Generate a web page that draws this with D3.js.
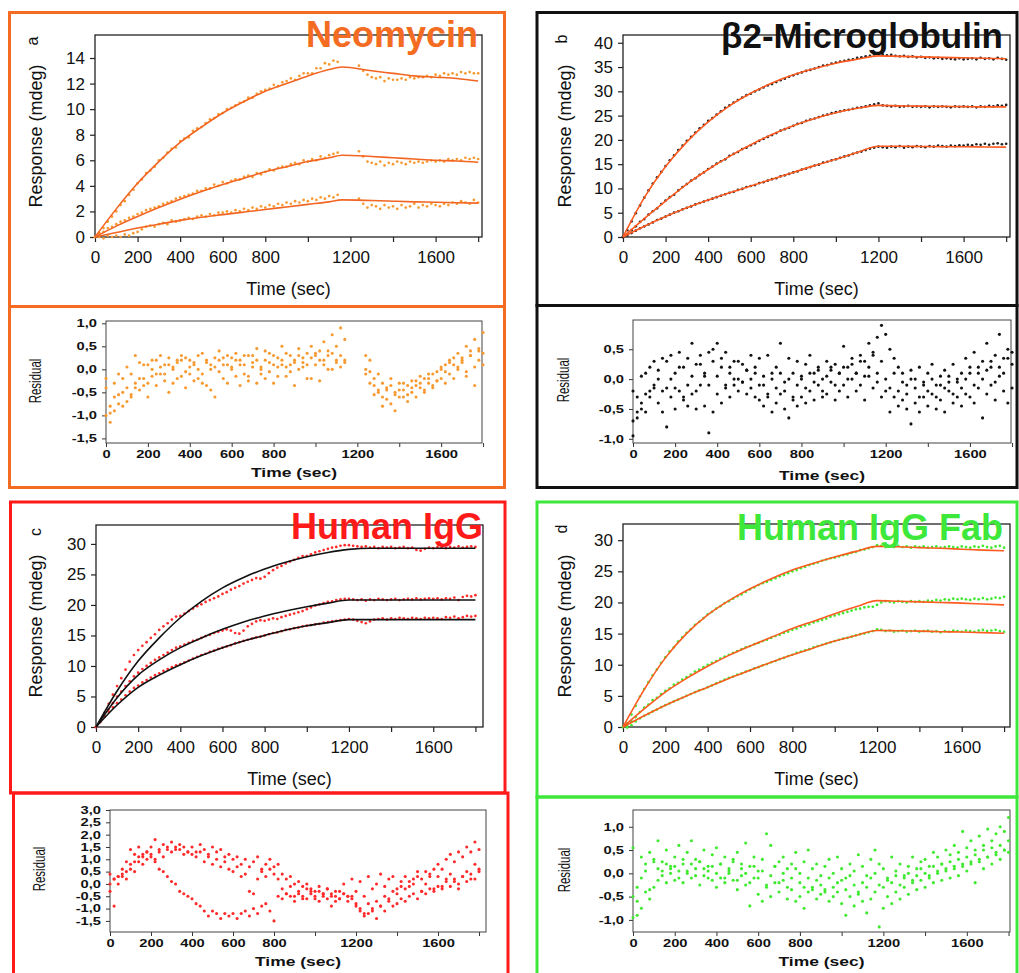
<!DOCTYPE html>
<html lang="en">
<head>
<meta charset="utf-8">
<title>Binding curves and residuals</title>
<script src="https://cdn.jsdelivr.net/npm/d3@7"></script>
<style>
body { margin: 0; background: #fff; }
text { font-family: "Liberation Sans", Arial, sans-serif; }
</style>
</head>
<body>
<script>

// sampling grids (sec)
var timeA = d3.range(0, 1141, 20).concat(d3.range(1240, 1801, 20));
var timeFull = d3.range(0, 1801, 20);
var fitTimeA = [0, 100, 200, 300, 400, 500, 600, 700, 800, 900, 1000, 1100, 1160, 1300, 1400, 1500, 1600, 1700, 1800];
var fitTime = d3.range(0, 1801, 100);

var timeTicks = [0, 200, 400, 600, 800, 1000, 1200, 1400, 1600, 1800];
var timeLabels = [0, 200, 400, 600, 800, 1200, 1600];

var titles = ["Neomycin", "\u03b22-Microglobulin", "Human IgG", "Human IgG Fab"];
var letters = ["a", "b", "c", "d"];

// ---- a: Neomycin ----
var neoHigh = [0.0, 0.3, 0.7, 1.2, 1.6, 2.0, 2.5, 2.8, 3.3, 3.7,
  4.2, 4.5, 5.0, 5.2, 5.5, 6.0, 6.2, 6.6, 6.9, 7.0,
  7.5, 7.7, 7.8, 8.3, 8.5, 8.6, 8.9, 9.2, 9.3, 9.6,
  9.7, 10.0, 10.1, 10.3, 10.5, 10.6, 10.9, 10.9, 11.2, 11.4,
  11.5, 11.6, 11.9, 11.8, 12.1, 12.2, 12.4, 12.3, 12.6, 12.8,
  12.8, 12.8, 13.2, 13.2, 13.6, 13.5, 13.8, 13.7,
  13.4, 13.0, 12.7, 12.5, 12.4, 12.5, 12.2, 12.4, 12.3, 12.3,
  12.4, 12.3, 12.5, 12.4, 12.5, 12.5, 12.6, 12.5, 12.7, 12.6,
  12.8, 12.7, 12.8, 12.7, 12.9, 12.8, 12.9, 12.8, 12.8];
var neoMid = [0.0, 0.3, 0.4, 0.7, 0.8, 1.0, 1.2, 1.3, 1.5, 1.6,
  1.8, 1.9, 2.1, 2.2, 2.3, 2.4, 2.6, 2.7, 2.8, 3.0,
  3.1, 3.2, 3.3, 3.4, 3.6, 3.6, 3.8, 3.8, 4.1, 4.0,
  4.3, 4.2, 4.4, 4.5, 4.5, 4.7, 4.8, 4.7, 5.0, 4.9,
  5.1, 5.3, 5.2, 5.4, 5.5, 5.5, 5.7, 5.8, 5.7, 6.0,
  5.9, 6.1, 6.0, 6.3, 6.2, 6.4, 6.5, 6.6,
  6.7, 6.3, 5.9, 5.8, 5.7, 5.9, 5.6, 5.8, 5.7, 5.9,
  5.8, 5.7, 5.9, 5.8, 5.9, 5.8, 5.9, 6.0, 5.9, 6.0,
  5.9, 6.1, 6.0, 6.1, 6.0, 6.2, 6.1, 6.2, 6.1];
var neoLow = [0.0, 0.0, -0.1, 0.1, 0.0, 0.1, 0.0, 0.2, 0.1, 0.3,
  0.4, 0.6, 0.8, 0.9, 0.8, 1.0, 1.1, 1.0, 1.3, 1.2,
  1.3, 1.4, 1.5, 1.4, 1.6, 1.7, 1.6, 1.8, 1.7, 1.9,
  1.9, 2.0, 1.9, 2.1, 2.0, 2.2, 2.1, 2.3, 2.2, 2.4,
  2.3, 2.5, 2.4, 2.6, 2.5, 2.7, 2.6, 2.8, 2.7, 2.9,
  2.8, 3.0, 2.9, 3.1, 3.0, 3.2, 3.1, 3.3,
  3.0, 2.6, 2.3, 2.5, 2.4, 2.2, 2.5, 2.3, 2.4, 2.2,
  2.5, 2.3, 2.4, 2.6, 2.3, 2.5, 2.4, 2.6, 2.5, 2.4,
  2.6, 2.5, 2.7, 2.6, 2.8, 2.7, 2.6, 2.9, 2.7];
var neoFitHigh = [0, 2.2, 4.2, 5.9, 7.4, 8.6, 9.7, 10.6, 11.4, 12.0, 12.6, 13.1, 13.3, 13.0, 12.8, 12.6, 12.5, 12.4, 12.2];
var neoFitMid = [0, 0.85, 1.6, 2.3, 2.95, 3.55, 4.1, 4.6, 5.1, 5.5, 5.9, 6.2, 6.4, 6.3, 6.2, 6.1, 6.0, 5.95, 5.85];
var neoFitLow = [0, 0.35, 0.7, 1.0, 1.3, 1.55, 1.75, 1.95, 2.15, 2.35, 2.55, 2.75, 2.9, 2.85, 2.8, 2.75, 2.72, 2.68, 2.65];
var neoRes1 = [-1.0, -0.8, -0.6, -0.75, -0.5, -0.4, -0.55, -0.3, -0.2, -0.35,
  0.1, -0.15, 0.2, 0.05, -0.1, 0.25, 0.0, 0.15, 0.3, -0.05,
  0.2, 0.1, -0.2, 0.35, 0.15, 0.0, 0.25, 0.4, 0.1, 0.3,
  0.05, 0.35, 0.2, -0.1, 0.3, 0.15, 0.45, 0.0, 0.2, 0.35,
  0.1, 0.25, 0.5, 0.05, 0.3, 0.2, 0.45, 0.15, 0.35, 0.5,
  0.3, 0.2, 0.6, 0.4, 0.75, 0.5, 0.9, 0.65,
  0.3, -0.05, -0.35, -0.5, -0.6, -0.4, -0.75, -0.55, -0.45, -0.6,
  -0.35, -0.5, -0.25, -0.4, -0.2, -0.3, -0.1, -0.25, 0.05, -0.05,
  0.2, 0.1, 0.35, 0.2, 0.5, 0.3, 0.65, 0.45, 0.8];
var neoRes2 = [-0.4, -0.95, -0.3, -0.55, -0.2, -0.7, -0.1, -0.4, 0.15, -0.2,
  -0.3, 0.0, -0.1, 0.3, -0.25, 0.1, -0.3, 0.2, -0.15, 0.25,
  -0.1, 0.15, 0.0, -0.3, 0.2, -0.45, 0.05, 0.2, -0.2, 0.1,
  0.25, -0.15, 0.1, 0.3, -0.25, 0.05, 0.2, -0.1, 0.4, -0.05,
  0.3, -0.15, 0.1, 0.35, -0.05, 0.15, 0.3, 0.05, -0.2, 0.25,
  0.1, 0.4, 0.2, 0.0, 0.35, 0.15, 0.3, 0.2,
  0.0, -0.3, -0.2, -0.45, -0.3, -0.65, -0.35, -0.5, -0.3, -0.45,
  -0.55, -0.25, -0.35, -0.15, -0.5, -0.2, -0.35, -0.05, -0.2, 0.1,
  -0.1, 0.25, 0.0, 0.15, -0.15, 0.3, 0.05, 0.4, 0.1];
var neoRes3 = [-0.2, -1.15, -0.9, -0.1, -0.8, 0.05, -0.6, 0.3, -0.45, 0.1,
  -0.6, 0.2, -0.35, -0.1, 0.1, -0.5, 0.05, -0.2, 0.2, -0.4,
  0.05, -0.25, 0.3, -0.1, -0.35, 0.1, -0.6, -0.05, 0.25, -0.3,
  0.0, 0.2, -0.35, 0.1, -0.15, 0.3, -0.3, 0.05, -0.2, 0.15,
  -0.3, 0.05, 0.2, -0.15, 0.1, -0.35, 0.0, 0.25, 0.1, -0.2,
  0.35, -0.25, 0.1, 0.3, 0.0, 0.2, 0.05, 0.15,
  -0.1, 0.2, -0.55, -0.1, -0.8, -0.45, -0.2, -0.9, -0.6, -0.3,
  -0.7, -0.4, -0.6, -0.3, -0.45, -0.1, -0.4, -0.25, 0.0, -0.3,
  0.15, -0.2, 0.05, 0.25, -0.05, 0.4, -0.35, 0.2, 0.35];

// ---- b: beta2-microglobulin ----
var b2mHigh = [0.0, 1.4, 3.2, 4.9, 6.5, 8.1, 9.6, 11.0, 12.3, 13.4,
  14.6, 15.8, 16.8, 17.9, 18.8, 19.8, 20.6, 21.5, 22.4, 23.1,
  23.9, 24.5, 25.2, 25.9, 26.6, 27.1, 27.7, 28.2, 28.7, 29.2,
  29.5, 30.0, 30.4, 30.8, 31.2, 31.5, 31.9, 32.3, 32.6, 33.0,
  33.3, 33.6, 33.9, 34.2, 34.4, 34.7, 35.0, 35.3, 35.4, 35.7,
  35.9, 36.1, 36.3, 36.5, 36.6, 36.9, 37.0, 37.2, 37.3, 37.6,
  37.7, 37.6, 37.4, 37.5, 37.3, 37.2, 37.3, 37.1, 37.2, 37.0,
  37.1, 36.9, 37.0, 36.8, 36.9, 36.7, 36.8, 36.7, 36.6, 36.8,
  36.6, 36.7, 36.8, 36.6, 36.9, 36.7, 36.8, 36.6, 36.9, 36.7, 36.5];
var b2mMid = [0.0, 0.6, 1.4, 2.2, 3.1, 3.7, 4.6, 5.3, 5.9, 6.8,
  7.5, 8.2, 8.7, 9.6, 10.3, 10.9, 11.6, 12.1, 12.8, 13.3,
  14.0, 14.5, 15.1, 15.6, 16.0, 16.7, 17.1, 17.5, 18.1, 18.4,
  18.9, 19.3, 19.8, 20.2, 20.6, 21.0, 21.4, 21.9, 22.2, 22.5,
  22.9, 23.3, 23.5, 23.9, 24.2, 24.4, 24.7, 25.0, 25.2, 25.5,
  25.7, 25.9, 26.1, 26.2, 26.4, 26.6, 26.7, 26.9, 27.1, 27.3,
  27.5, 27.1, 27.0, 26.9, 27.0, 26.8, 26.9, 27.0, 26.8, 26.9,
  26.8, 26.9, 26.7, 26.9, 26.8, 26.9, 26.8, 26.7, 26.9, 26.8,
  26.9, 26.8, 26.9, 26.7, 26.9, 26.8, 27.0, 26.9, 27.1, 27.0, 27.2];
var b2mLow = [0.0, 0.3, 0.8, 1.3, 1.8, 2.2, 2.6, 3.0, 3.5, 3.8,
  4.2, 4.6, 5.0, 5.3, 5.7, 6.0, 6.3, 6.7, 7.0, 7.3,
  7.6, 7.9, 8.2, 8.5, 8.8, 9.1, 9.3, 9.7, 9.9, 10.3,
  10.5, 10.7, 11.1, 11.3, 11.6, 11.9, 12.1, 12.5, 12.7, 13.0,
  13.3, 13.5, 13.9, 14.1, 14.4, 14.7, 14.9, 15.3, 15.5, 15.8,
  16.0, 16.3, 16.6, 16.8, 17.1, 17.4, 17.6, 17.9, 18.2, 18.4,
  18.6, 18.5, 18.4, 18.6, 18.5, 18.7, 18.4, 18.6, 18.5, 18.7,
  18.6, 18.5, 18.7, 18.6, 18.8, 18.7, 18.6, 18.8, 18.7, 18.9,
  18.8, 19.0, 18.9, 19.1, 19.0, 19.2, 19.0, 19.2, 19.3, 19.1, 19.2];
var b2mFitHigh = [0, 8.1, 14.5, 19.6, 23.7, 27.0, 29.6, 31.7, 33.4, 34.7, 35.8, 36.6, 37.3, 37.2, 37.1, 37.0, 36.9, 36.8, 36.7];
var b2mFitMid = [0, 3.8, 7.4, 10.9, 13.9, 16.6, 19.0, 21.1, 22.9, 24.4, 25.6, 26.5, 27.1, 27.0, 26.95, 26.9, 26.85, 26.8, 26.8];
var b2mFitLow = [0, 2.2, 4.2, 6.0, 7.6, 9.1, 10.5, 11.9, 13.3, 14.7, 16.0, 17.4, 18.7, 18.7, 18.65, 18.6, 18.6, 18.55, 18.5];
var b2mRes1 = [-0.7, -0.3, -0.5, 0.1, -0.2, 0.3, 0.0, 0.35, -0.15, 0.4,
  0.1, 0.45, 0.2, -0.1, 0.6, 0.25, 0.4, 0.05, 0.45, 0.5,
  0.6, 0.2, 0.45, 0.1, 0.3, 0.0, 0.25, 0.15, 0.4, 0.2,
  0.35, -0.1, 0.4, 0.1, 0.2, 0.6, -0.05, 0.35, 0.1, 0.3,
  0.0, 0.25, 0.4, 0.1, 0.2, 0.0, 0.3, 0.15, 0.25, 0.1,
  0.55, 0.2, 0.35, 0.1, 0.4, 0.3, 0.6, 0.45, 0.7, 0.9,
  0.75, 0.5, 0.35, 0.2, 0.1, -0.1, 0.15, 0.0, 0.2, -0.05,
  0.1, 0.25, -0.1, 0.05, 0.15, -0.05, 0.25, 0.0, 0.1, 0.35,
  0.2, 0.45, 0.1, 0.3, 0.6, 0.2, 0.4, 0.75, 0.35, 0.5, 0.45];
var b2mRes2 = [-0.2, -0.55, 0.05, -0.25, 0.2, -0.1, 0.15, -0.2, 0.3, 0.0,
  -0.15, 0.2, -0.3, 0.35, 0.05, -0.2, 0.25, 0.1, -0.1, 0.3,
  0.05, 0.35, -0.1, 0.2, 0.0, 0.3, -0.05, 0.15, 0.0, 0.1,
  -0.1, 0.05, -0.25, 0.0, -0.15, 0.1, -0.2, 0.0, -0.3, -0.1,
  0.05, -0.15, 0.1, -0.05, 0.15, -0.2, 0.05, 0.2, -0.1, 0.1,
  0.2, 0.0, 0.25, 0.1, 0.3, 0.05, 0.2, 0.4, 0.1, 0.3,
  0.0, -0.15, 0.1, -0.2, -0.05, -0.25, 0.0, -0.15, -0.3, -0.1,
  -0.2, 0.0, -0.3, -0.1, -0.15, 0.05, -0.25, -0.05, -0.15, 0.0,
  0.1, -0.1, 0.2, 0.0, 0.15, 0.3, -0.05, 0.2, 0.1, 0.35, 0.25];
var b2mRes3 = [-0.95, -0.65, -0.4, -0.55, -0.3, -0.15, -0.4, -0.55, -0.8, -0.3,
  -0.5, -0.2, -0.35, -0.45, -0.25, -0.5, -0.1, -0.45, -0.9, -0.55,
  -0.25, -0.4, -0.15, -0.3, -0.1, -0.2, -0.05, -0.25, -0.15, -0.3,
  -0.35, -0.45, -0.3, -0.55, -0.4, -0.25, -0.5, -0.65, -0.35, -0.45,
  -0.3, -0.4, -0.2, -0.35, -0.1, -0.3, -0.25, -0.05, -0.35, -0.2,
  -0.1, -0.3, 0.0, -0.2, -0.1, -0.35, 0.05, -0.15, -0.05, -0.3,
  -0.2, -0.55, -0.3, -0.45, -0.35, -0.5, -0.75, -0.4, -0.55, -0.3,
  -0.45, -0.25, -0.5, -0.35, -0.55, -0.2, -0.4, -0.3, -0.45, -0.25,
  -0.3, -0.4, -0.15, -0.65, -0.25, -0.1, -0.35, 0.05, -0.2, -0.4, -0.15];

// ---- c: Human IgG ----
var iggHigh = [0.0, 1.0, 2.3, 3.8, 5.3, 6.7, 8.0, 9.4, 10.7, 11.8,
  12.6, 13.3, 13.9, 14.6, 15.2, 15.9, 16.5, 17.0, 17.6, 18.1,
  18.2, 18.6, 19.0, 19.4, 19.8, 20.1, 20.5, 20.8, 21.1, 21.4,
  21.8, 22.1, 22.5, 22.8, 23.1, 23.5, 23.8, 24.1, 24.4, 24.3,
  24.6, 25.2, 25.7, 26.1, 26.4, 26.8, 27.1, 27.4, 27.7, 28.0,
  28.0, 28.3, 28.6, 28.8, 29.0, 29.2, 29.4, 29.5, 29.7, 29.8,
  29.8, 29.7, 29.6, 29.5, 29.6, 29.4, 29.5, 29.3, 29.5, 29.4,
  29.5, 29.3, 29.4, 29.5, 29.3, 29.4, 29.0, 28.9, 29.2, 29.4,
  29.3, 29.5, 29.4, 29.3, 29.5, 29.4, 29.6, 29.4, 29.5, 29.6, 29.5];
var iggMid = [0.0, 0.8, 1.8, 2.9, 3.9, 5.0, 5.8, 6.7, 7.5, 8.3,
  8.9, 9.5, 10.0, 10.5, 11.0, 11.4, 11.8, 12.2, 12.6, 13.0,
  13.2, 13.5, 13.8, 14.1, 14.3, 14.6, 14.9, 15.1, 15.4, 15.6,
  15.8, 16.0, 15.8, 15.4, 15.3, 15.8, 16.5, 16.9, 17.3, 17.5,
  17.4, 17.6, 17.8, 17.7, 18.0, 18.2, 18.4, 18.6, 18.8, 19.0,
  19.3, 19.6, 19.9, 20.1, 20.3, 20.5, 20.6, 20.8, 20.9, 21.0,
  21.0, 20.9, 20.8, 20.9, 20.7, 20.9, 20.8, 21.0, 20.9, 20.8,
  20.9, 21.0, 20.8, 20.9, 21.0, 20.9, 21.1, 20.9, 21.0, 21.1,
  21.0, 21.1, 20.9, 21.1, 21.0, 21.2, 20.8, 21.3, 21.5, 21.4, 21.6];
var iggLow = [0.0, 0.9, 1.7, 2.5, 3.2, 3.9, 4.5, 5.2, 5.8, 6.4,
  6.8, 7.3, 7.7, 8.1, 8.5, 8.8, 9.2, 9.5, 9.8, 10.1,
  10.3, 10.6, 10.9, 11.2, 11.5, 11.8, 12.0, 12.3, 12.5, 12.8,
  13.0, 13.2, 13.4, 13.7, 13.9, 14.1, 14.3, 14.5, 14.7, 14.8,
  15.0, 15.2, 15.4, 15.5, 15.7, 15.9, 16.0, 16.2, 16.3, 16.5,
  16.6, 16.7, 16.8, 16.9, 17.1, 17.2, 17.3, 17.4, 17.5, 17.6,
  17.7, 17.6, 17.4, 17.2, 17.0, 17.3, 17.6, 17.7, 17.8, 17.6,
  17.8, 17.7, 17.9, 17.8, 17.7, 17.9, 17.8, 17.7, 17.9, 17.8,
  17.9, 17.8, 17.7, 18.0, 17.9, 18.1, 17.8, 18.0, 18.2, 18.1, 18.2];
var iggFitHigh = [0, 5.9, 10.8, 14.6, 17.9, 20.6, 22.8, 24.5, 25.9, 27.0, 27.9, 28.6, 29.1, 29.3, 29.3, 29.3, 29.3, 29.3, 29.3];
var iggFitMid = [0, 4.8, 8.5, 11.0, 13.0, 14.6, 16.0, 17.2, 18.2, 19.0, 19.7, 20.3, 20.8, 20.8, 20.8, 20.8, 20.8, 20.8, 20.8];
var iggFitLow = [0, 3.6, 6.5, 8.5, 10.2, 11.7, 13.0, 14.1, 15.0, 15.9, 16.6, 17.1, 17.6, 17.6, 17.6, 17.6, 17.6, 17.6, 17.6];
var iggRes1 = [0.0, -0.9, 0.3, 0.4, 0.5, 0.8, 0.9, 1.1, 1.2, 1.3,
  1.1, 0.9, 0.6, 0.5, 0.3, 0.1, 0.0, -0.3, -0.4, -0.5,
  -0.6, -0.8, -0.9, -1.1, -1.3, -1.1, -1.2, -1.4, -1.2, -1.3,
  -1.2, -1.4, -1.2, -1.1, -1.3, -1.0, -1.2, -0.9, -0.8, -1.1,
  -1.5, -0.5, -0.6, -0.4, -0.5, -0.7, -0.4, -0.5, -0.6, -0.3,
  -0.5, -0.7, -0.4, -0.6, -0.9, -0.5, -0.6, -0.4, -0.7, -0.5,
  -0.8, -1.1, -1.3, -1.2, -1.0, -1.4, -0.9, -1.1, -0.7, -0.9,
  -0.8, -0.6, -0.7, -0.5, -0.4, -0.6, -0.3, -0.4, -0.2, -0.3,
  -0.1, -0.2, 0.1, -0.1, 0.2, 0.0, 0.3, 0.1, 0.4, 0.2, 0.5];
var iggRes2 = [0.4, 0.2, 0.3, 0.6, 0.9, 1.4, 1.2, 1.5, 1.1, 1.3,
  1.5, 1.8, 1.4, 1.6, 1.5, 1.7, 1.4, 1.6, 1.5, 1.3,
  1.5, 1.3, 1.6, 1.4, 1.2, 1.5, 1.3, 1.4, 1.1, 1.2,
  1.0, 1.1, 0.8, 1.0, 0.7, 0.9, 1.1, 0.6, 0.8, 1.0,
  0.7, 0.8, 0.4, 0.2, 0.3, 0.0, 0.1, -0.1, 0.0, -0.2,
  -0.3, -0.1, -0.4, -0.2, -0.5, -0.3, -0.6, -0.4, -0.5, -0.6,
  -0.9, -1.0, -1.2, -0.8, -1.1, -0.7, -0.9, -0.5, -0.6, -0.3,
  -0.4, -0.1, -0.2, 0.1, 0.0, 0.3, 0.2, 0.5, 0.4, 0.6,
  0.8, 0.6, 1.0, 1.2, 0.9, 1.3, 1.1, 1.5, 1.3, 1.7, 1.4];
var iggRes3 = [-0.3, 0.2, 0.0, 0.3, 0.2, 0.6, 0.5, 0.9, 0.8, 1.0,
  1.2, 1.0, 1.3, 1.1, 1.4, 1.3, 1.5, 1.4, 1.2, 1.3,
  1.2, 1.1, 1.3, 0.9, 1.1, 0.8, 1.0, 0.7, 0.9, 0.6,
  0.5, 0.7, 0.3, 0.4, -0.3, -0.4, 0.2, 0.5, 0.3, 0.6,
  0.4, 0.2, -0.2, -0.4, -0.1, -0.5, -0.3, -0.6, -0.2, -0.4,
  -0.6, -0.3, -0.5, -0.2, -0.4, -0.7, -0.3, 0.0, -0.5, 0.2,
  -0.3, 0.1, -0.5, 0.3, -0.2, 0.0, 0.4, -0.1, 0.2, 0.3,
  -0.2, 0.1, 0.3, -0.1, 0.2, 0.5, -0.3, 0.0, 0.3, -0.2,
  0.3, -0.1, 0.2, 0.4, 0.1, -0.2, 0.3, 0.5, 0.2, 0.8, 0.6];

// ---- d: Human IgG Fab ----
var fabHigh = [0.0, 0.6, 2.0, 3.4, 4.9, 6.1, 7.2, 8.3, 9.2, 10.3,
  11.2, 12.1, 12.8, 13.7, 14.4, 15.1, 15.7, 16.4, 16.9, 17.5,
  18.1, 18.5, 19.0, 19.4, 19.9, 20.2, 20.6, 21.0, 21.3, 21.7,
  22.1, 22.4, 22.8, 23.1, 23.3, 23.6, 23.9, 24.2, 24.4, 24.7,
  25.0, 25.2, 25.5, 25.7, 26.0, 26.2, 26.4, 26.7, 26.9, 27.1,
  27.2, 27.4, 27.6, 27.7, 28.0, 28.1, 28.4, 28.5, 28.7, 28.9,
  29.2, 29.1, 28.9, 29.0, 28.9, 29.1, 28.9, 29.0, 28.8, 29.0,
  28.9, 29.0, 28.8, 28.9, 29.0, 28.8, 28.9, 29.0, 28.9, 28.8,
  29.0, 28.9, 28.8, 29.0, 28.9, 29.1, 28.9, 28.8, 29.0, 29.1, 28.8];
var fabMid = [0.0, 0.2, 0.9, 1.6, 2.4, 3.1, 3.6, 4.3, 4.7, 5.3,
  5.8, 6.2, 6.8, 7.1, 7.6, 8.0, 8.4, 8.9, 9.2, 9.6,
  10.0, 10.3, 10.6, 11.0, 11.3, 11.6, 11.9, 12.2, 12.5, 12.8,
  13.0, 13.3, 13.5, 13.8, 14.0, 14.3, 14.6, 14.8, 15.1, 15.3,
  15.6, 15.8, 16.1, 16.3, 16.5, 16.8, 17.0, 17.2, 17.4, 17.7,
  17.9, 18.1, 18.3, 18.5, 18.7, 18.9, 19.0, 19.2, 19.3, 19.3,
  19.6, 20.0, 20.2, 20.1, 20.0, 20.2, 20.1, 20.0, 20.2, 20.1,
  20.2, 20.1, 20.3, 20.2, 20.4, 20.3, 20.5, 20.4, 20.6, 20.5,
  20.6, 20.5, 20.4, 20.6, 20.5, 20.7, 20.5, 20.6, 20.8, 20.7, 20.9];
var fabLow = [0.0, -0.1, 0.3, 0.9, 1.4, 1.8, 2.1, 2.5, 2.8, 3.2,
  3.5, 3.8, 4.1, 4.4, 4.7, 5.0, 5.3, 5.6, 5.9, 6.1,
  6.4, 6.7, 7.0, 7.3, 7.6, 7.9, 8.1, 8.4, 8.6, 8.9,
  9.1, 9.4, 9.6, 9.9, 10.1, 10.4, 10.6, 10.9, 11.1, 11.4,
  11.6, 11.9, 12.1, 12.3, 12.5, 12.8, 13.0, 13.2, 13.4, 13.6,
  13.8, 14.0, 14.2, 14.3, 14.5, 14.7, 14.9, 15.0, 15.2, 15.4,
  15.7, 15.6, 15.4, 15.5, 15.3, 15.4, 15.5, 15.3, 15.4, 15.5,
  15.3, 15.4, 15.5, 15.3, 15.4, 15.2, 15.4, 15.3, 15.5, 15.4,
  15.3, 15.5, 15.4, 15.3, 15.5, 15.6, 15.4, 15.5, 15.6, 15.4, 15.3];
var fabFitHigh = [0, 6.0, 11.1, 15.0, 18.0, 20.3, 22.2, 23.8, 25.2, 26.3, 27.3, 28.2, 29.0, 28.95, 28.8, 28.7, 28.55, 28.4, 28.3];
var fabFitMid = [0, 2.9, 5.6, 7.8, 9.75, 11.5, 13.0, 14.4, 15.8, 17.0, 18.2, 19.3, 20.3, 20.2, 20.1, 20.0, 19.9, 19.75, 19.6];
var fabFitLow = [0, 1.8, 3.5, 5.0, 6.4, 7.8, 9.1, 10.4, 11.6, 12.7, 13.8, 14.7, 15.5, 15.45, 15.4, 15.3, 15.25, 15.15, 15.05];
var fabRes1 = [0.55, -0.3, 0.35, 0.2, 0.45, 0.3, 0.7, 0.25, 0.5, 0.15,
  0.35, 0.6, 0.2, 0.45, 0.7, 0.3, 0.25, 0.5, 0.15, 0.4,
  0.55, 0.2, 0.35, 0.1, 0.3, 0.45, 0.2, 0.65, 0.15, 0.35,
  0.05, 0.3, 0.85, 0.6, 0.15, 0.25, 0.35, 0.1, 0.2, 0.45,
  0.0, 0.25, 0.5, 0.1, 0.2, -0.05, 0.15, 0.3, 0.0, 0.35,
  0.1, -0.1, 0.2, 0.05, 0.4, 0.15, -0.05, 0.3, 0.5, 0.2,
  0.1, -0.1, 0.35, 0.05, 0.2, -0.05, 0.15, 0.35, 0.1, 0.25,
  0.3, 0.15, 0.45, 0.35, 0.2, 0.5, 0.4, 0.6, 0.45, 0.9,
  0.55, 0.7, 0.5, 0.8, 0.6, 0.95, 0.7, 0.85, 1.0, 0.9, 1.2];
var fabRes2 = [-0.5, -0.9, -0.1, 0.05, -0.35, 0.25, 0.1, -0.05, 0.2, 0.0,
  0.15, -0.1, 0.3, 0.05, 0.2, -0.05, 0.25, 0.1, -0.1, 0.15,
  0.0, 0.2, -0.1, 0.05, 0.25, -0.15, 0.1, 0.0, -0.2, 0.15,
  -0.1, 0.05, -0.25, -0.05, 0.15, -0.2, 0.0, -0.3, -0.1, 0.1,
  -0.2, -0.3, -0.1, -0.35, -0.15, -0.25, -0.4, -0.1, -0.3, -0.2,
  -0.15, -0.35, -0.05, -0.25, -0.4, -0.2, -0.3, -0.1, 0.0, -0.25,
  -0.3, -0.15, -0.2, -0.05, -0.25, -0.1, 0.0, -0.15, -0.05, 0.1,
  0.0, -0.05, 0.15, 0.05, 0.2, 0.1, 0.25, 0.15, 0.3, 0.2,
  0.35, 0.25, 0.4, 0.3, 0.5, 0.35, 0.55, 0.45, 0.6, 0.5, 0.7];
var fabRes3 = [-0.95, -0.6, -0.75, -0.4, -0.55, -0.3, -0.15, 0.05, -0.2, 0.1,
  -0.15, 0.05, -0.2, 0.0, -0.1, 0.1, -0.25, -0.05, 0.05, -0.15,
  -0.3, -0.1, -0.2, 0.0, -0.15, -0.35, -0.05, -0.25, -0.7, -0.1,
  -0.45, -0.6, -0.3, -0.5, -0.2, -0.4, -0.15, -0.55, -0.35, -0.6,
  -0.5, -0.75, -0.4, -0.3, -0.55, -0.45, -0.35, -0.6, -0.5, -0.4,
  -0.65, -0.9, -0.5, -0.7, -0.45, -0.6, -0.85, -0.55, -0.4, -1.15,
  -0.75, -0.5, -0.65, -0.4, -0.55, -0.3, -0.45, -0.2, -0.35, -0.15,
  -0.3, -0.1, -0.2, 0.0, -0.15, 0.05, -0.1, 0.1, -0.05, 0.15,
  0.05, 0.2, -0.2, 0.25, 0.1, 0.35, 0.2, 0.4, 0.3, 0.5, 0.45];

// ---------- layout ----------
var W = 1019, H = 973;
var svg = d3.select("body").append("svg").attr("width", W).attr("height", H);

var panels = [
  { box: [9.5, 12.5, 504.5, 306.5], rbox: [9.5, 306.5, 504.5, 487.5], color: "#f36c21",
    main: { l: 95, r: 482, t: 35, b: 237, xMax: 1818, yMax: 15.8, yTicks: d3.range(0, 15, 2) },
    res: { l: 106, r: 482, t: 321, b: 443, xMax: 1795, yMin: -1.6, yMax: 1.05, yTicks: [-1.5, -1, -0.5, 0, 0.5, 1] },
    times: timeA, data: [neoHigh, neoMid, neoLow], fitT: fitTimeA, fits: [neoFitHigh, neoFitMid, neoFitLow],
    res3: [neoRes1, neoRes2, neoRes3], dot: "#f79a32", fit: "#f26522", title: titles[0], titleX: 478, titleY: 47,
    ylab: [42, 136], letter: [38, 41], rlab: [41, 381], xlabY: 295, rxlabY: 477, rdot: "#f79a32" },
  { box: [537, 12.5, 1017, 305.5], rbox: [537, 305.5, 1017, 487.5], color: "#111",
    main: { l: 623, r: 1010, t: 35, b: 237, xMax: 1818, yMax: 41.6, yTicks: d3.range(0, 41, 5) },
    res: { l: 633, r: 1011, t: 320, b: 443, xMax: 1795, yMin: -1.07, yMax: 0.99, yTicks: [-1, -0.5, 0, 0.5] },
    times: timeFull, data: [b2mHigh, b2mMid, b2mLow], fitT: fitTime, fits: [b2mFitHigh, b2mFitMid, b2mFitLow],
    res3: [b2mRes1, b2mRes2, b2mRes3], dot: "#222", fit: "#ff5a1f", title: titles[1], titleX: 1003, titleY: 48,
    ylab: [571, 136], letter: [567, 39], rlab: [569, 380], xlabY: 295, rxlabY: 480, rdot: "#111" },
  { box: [10.5, 502, 505, 793], rbox: [13.5, 793, 508, 990], color: "#ff1a1a",
    main: { l: 96, r: 483, t: 525, b: 727, xMax: 1836, yMax: 33.1, yTicks: d3.range(0, 31, 5) },
    res: { l: 110, r: 486, t: 810, b: 932, xMax: 1834, yMin: -1.95, yMax: 3.0, yTicks: [-1.5, -1, -0.5, 0, 0.5, 1, 1.5, 2, 2.5, 3] },
    times: timeFull, data: [iggHigh, iggMid, iggLow], fitT: fitTime, fits: [iggFitHigh, iggFitMid, iggFitLow],
    res3: [iggRes1, iggRes2, iggRes3], dot: "#ff2a2a", fit: "#111", title: titles[2], titleX: 483, titleY: 539,
    ylab: [42, 626], letter: [41, 532], rlab: [45, 869], xlabY: 785, rxlabY: 966, rdot: "#ff2a2a" },
  { box: [537, 502, 1017, 797], rbox: [537, 797, 1017, 990], color: "#3ee83a",
    main: { l: 623, r: 1010, t: 524, b: 727, xMax: 1828, yMax: 32.6, yTicks: d3.range(0, 31, 5) },
    res: { l: 633, r: 1010, t: 810, b: 932, xMax: 1807, yMin: -1.26, yMax: 1.36, yTicks: [-1, -0.5, 0, 0.5, 1] },
    times: timeFull, data: [fabHigh, fabMid, fabLow], fitT: fitTime, fits: [fabFitHigh, fabFitMid, fabFitLow],
    res3: [fabRes1, fabRes2, fabRes3], dot: "#3fea30", fit: "#ff5a1f", title: titles[3], titleX: 1003, titleY: 540,
    ylab: [571, 626], letter: [567, 529], rlab: [570, 870], xlabY: 785, rxlabY: 966, rdot: "#3fea30" }
];

var residFmt = function(d) { return d.toFixed(1).replace(".", ","); };
var timeFmt = function(d) { return timeLabels.indexOf(d) >= 0 ? d : ""; };
var SX = 1.4; // residual panels are stretched sideways

function pts(times, vals) {
  var out = [];
  times.forEach(function(t, i) {
    if (vals[i] !== undefined) out.push([t, vals[i]]);
  });
  return out;
}

function drawBox(b, color) {
  svg.append("rect")
    .attr("x", b[0]).attr("y", b[1])
    .attr("width", b[2] - b[0]).attr("height", b[3] - b[1])
    .attr("fill", "none").attr("stroke", color).attr("stroke-width", 3);
}

panels.forEach(function(p, pi) {
  drawBox(p.box, p.color);
  drawBox(p.rbox, p.color);

  // main plot
  var m = p.main;
  var x = d3.scaleLinear().domain([0, m.xMax]).range([m.l, m.r]);
  var y = d3.scaleLinear().domain([0, m.yMax]).range([m.b, m.t]);
  var g = svg.append("g");

  var xAxis = d3.axisBottom(x).tickValues(timeTicks).tickFormat(timeFmt).tickSize(5).tickPadding(9);
  var yAxis = d3.axisLeft(y).tickValues(m.yTicks).tickSize(5).tickPadding(5);
  var gx = g.append("g").attr("transform", "translate(0," + m.b + ")").call(xAxis);
  var gy = g.append("g").attr("transform", "translate(" + m.l + ",0)").call(yAxis);
  [gx, gy].forEach(function(a) {
    a.select(".domain").remove();
    a.selectAll("line").attr("stroke", "#222").attr("stroke-width", 1.2);
    a.selectAll("text").attr("font-size", 17).attr("fill", "#111")
      .attr("font-family", "'Liberation Sans', Arial, sans-serif");
  });

  g.append("rect")
    .attr("x", m.l).attr("y", m.t).attr("width", m.r - m.l).attr("height", m.b - m.t)
    .attr("fill", "none").attr("stroke", "#222").attr("stroke-width", 1.3);

  p.data.forEach(function(vals) {
    g.append("g").selectAll("circle")
      .data(pts(p.times, vals))
      .enter().append("circle")
      .attr("cx", function(d) { return x(d[0]); })
      .attr("cy", function(d) { return y(d[1]); })
      .attr("r", 1.35)
      .attr("fill", p.dot);
  });

  var line = d3.line()
    .x(function(d) { return x(d[0]); })
    .y(function(d) { return y(d[1]); })
    .curve(d3.curveMonotoneX);
  p.fits.forEach(function(vals) {
    g.append("path")
      .attr("d", line(pts(p.fitT, vals)))
      .attr("fill", "none")
      .attr("stroke", p.fit)
      .attr("stroke-width", 1.6);
  });

  g.append("text")
    .attr("transform", "translate(" + p.ylab[0] + "," + p.ylab[1] + ") rotate(-90)")
    .attr("text-anchor", "middle").attr("font-size", 18).attr("fill", "#111")
    .text("Response (mdeg)");
  g.append("text")
    .attr("x", (m.l + m.r) / 2).attr("y", p.xlabY)
    .attr("text-anchor", "middle").attr("font-size", 18).attr("fill", "#111")
    .text("Time (sec)");
  g.append("text")
    .attr("transform", "translate(" + p.letter[0] + "," + p.letter[1] + ") rotate(-90)")
    .attr("text-anchor", "middle").attr("font-size", 16).attr("fill", "#111")
    .text(letters[pi]);

  g.append("text")
    .attr("x", p.titleX).attr("y", p.titleY)
    .attr("text-anchor", "end")
    .attr("font-size", pi === 1 ? 35 : 36).attr("font-weight", "bold")
    .attr("fill", pi === 1 ? "#111" : p.color)
    .text(p.title);

  // residual plot
  var r = p.res;
  var rx = d3.scaleLinear().domain([0, r.xMax]).range([r.l, r.r]);
  var ry = d3.scaleLinear().domain([r.yMin, r.yMax]).range([r.b, r.t]);
  var rg = svg.append("g");

  var rxAxis = d3.axisBottom(rx).tickValues(timeTicks).tickFormat(timeFmt).tickSize(4).tickPadding(4);
  var ryAxis = d3.axisLeft(ry).tickValues(r.yTicks).tickFormat(residFmt).tickSize(4).tickPadding(5);
  var rgx = rg.append("g").attr("transform", "translate(0," + r.b + ")").call(rxAxis);
  var rgy = rg.append("g").attr("transform", "translate(" + r.l + ",0)").call(ryAxis);
  [rgx, rgy].forEach(function(a) {
    a.select(".domain").remove();
    a.selectAll("line").attr("stroke", "#333").attr("stroke-width", 1);
    a.selectAll("text").attr("font-size", 10.5).attr("font-weight", "bold").attr("fill", "#111")
      .attr("font-family", "'Liberation Sans', Arial, sans-serif")
      .attr("transform", "scale(" + SX + ",1)");
  });
  rgy.selectAll("text").attr("x", -9 / SX);

  rg.append("rect")
    .attr("x", r.l).attr("y", r.t).attr("width", r.r - r.l).attr("height", r.b - r.t)
    .attr("fill", "none").attr("stroke", "#444").attr("stroke-width", 1);

  p.res3.forEach(function(vals) {
    rg.append("g").selectAll("circle")
      .data(pts(p.times, vals))
      .enter().append("circle")
      .attr("cx", function(d) { return rx(d[0]); })
      .attr("cy", function(d) { return ry(d[1]); })
      .attr("r", 1.55)
      .attr("fill", p.rdot);
  });

  rg.append("text")
    .attr("transform", "translate(" + p.rlab[0] + "," + p.rlab[1] + ") scale(" + SX + ",1) rotate(-90)")
    .attr("text-anchor", "middle").attr("font-size", 11.5).attr("fill", "#111")
    .text("Residual");
  rg.append("text")
    .attr("transform", "translate(" + ((r.l + r.r) / 2) + "," + p.rxlabY + ") scale(" + SX + ",1)")
    .attr("text-anchor", "middle").attr("font-size", 12.5).attr("font-weight", "bold").attr("fill", "#111")
    .text("Time (sec)");
});

</script>
</body>
</html>
